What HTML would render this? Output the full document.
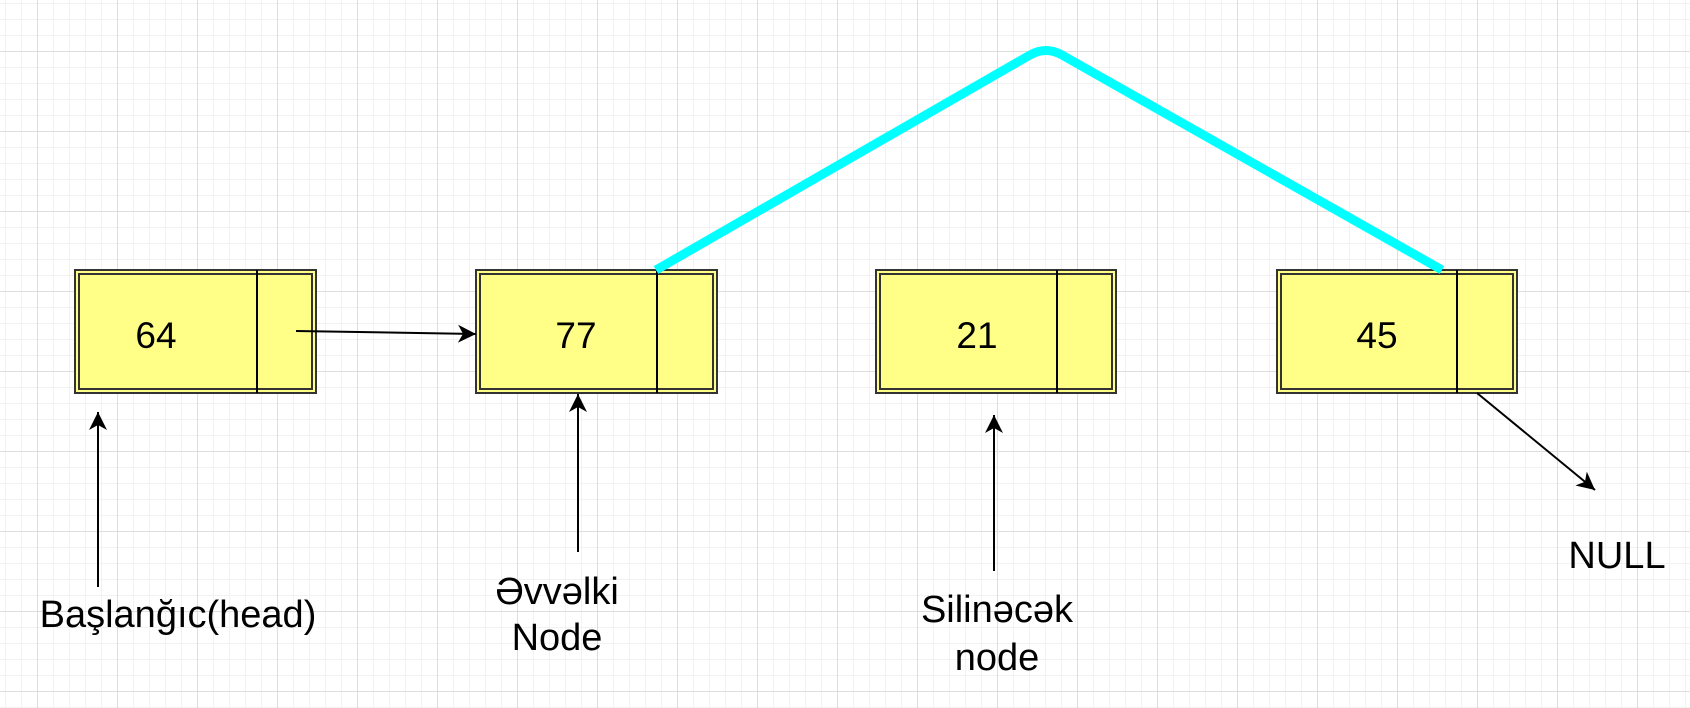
<!DOCTYPE html>
<html><head><meta charset="utf-8"><style>
body{margin:0;width:1690px;height:708px;overflow:hidden;background:#fff;
background-image:
linear-gradient(#dedede 1px,transparent 1px),
linear-gradient(90deg,#dedede 1px,transparent 1px),
linear-gradient(#f2f2f2 1px,transparent 1px),
linear-gradient(90deg,#f2f2f2 1px,transparent 1px);
background-size:80px 80px,80px 80px,16px 16px,16px 16px;
background-position:0 51px,37px 0,0 3px,5px 0;}
svg{position:absolute;left:0;top:0}
text{font-family:"Liberation Sans",sans-serif;fill:#000}
</style></head><body>
<svg width="1690" height="708" viewBox="0 0 1690 708">
<defs><marker id="a" markerWidth="20" markerHeight="20" refX="18" refY="9" orient="auto" markerUnits="userSpaceOnUse">
<path d="M0,0 L18,9 L0,18 L5,9 Z" fill="#000"/></marker></defs>
<g stroke="#333" stroke-width="2" fill="#ffff88">
<rect x="75" y="270" width="241" height="123"/><rect x="79" y="274" width="233" height="115" fill="none"/>
<rect x="476" y="270" width="241" height="123"/><rect x="480" y="274" width="233" height="115" fill="none"/>
<rect x="876" y="270" width="240" height="123"/><rect x="880" y="274" width="232" height="115" fill="none"/>
<rect x="1277" y="270" width="240" height="123"/><rect x="1281" y="274" width="232" height="115" fill="none"/>
</g>
<g stroke="#000" stroke-width="2">
<line x1="257" y1="270" x2="257" y2="393"/>
<line x1="657" y1="270" x2="657" y2="393"/>
<line x1="1057" y1="270" x2="1057" y2="393"/>
<line x1="1457" y1="270" x2="1457" y2="393"/>
</g>
<g font-size="37" text-anchor="middle">
<text x="156" y="348">64</text><text x="576" y="348">77</text>
<text x="977" y="348">21</text><text x="1377" y="348">45</text>
</g>
<g stroke="#000" stroke-width="2" fill="none" marker-end="url(#a)">
<line x1="296" y1="331" x2="476" y2="334"/>
<line x1="98" y1="587" x2="98" y2="412"/>
<line x1="578" y1="552" x2="578" y2="394"/>
<line x1="994" y1="571" x2="994" y2="415"/>
<line x1="1477" y1="393" x2="1595" y2="490"/>
</g>
<path d="M656,270 L1030,55 Q1046,46 1062,55 L1442,270" stroke="#00ffff" stroke-width="9" fill="none" stroke-linejoin="round"/>
<g font-size="38" text-anchor="middle">
<text x="178" y="627">Başlanğıc(head)</text>
<text x="557" y="604">Əvvəlki</text><text x="557" y="650">Node</text>
<text x="997" y="622">Silinəcək</text><text x="997" y="670">node</text>
<text x="1617" y="568">NULL</text>
</g>
</svg>
</body></html>
